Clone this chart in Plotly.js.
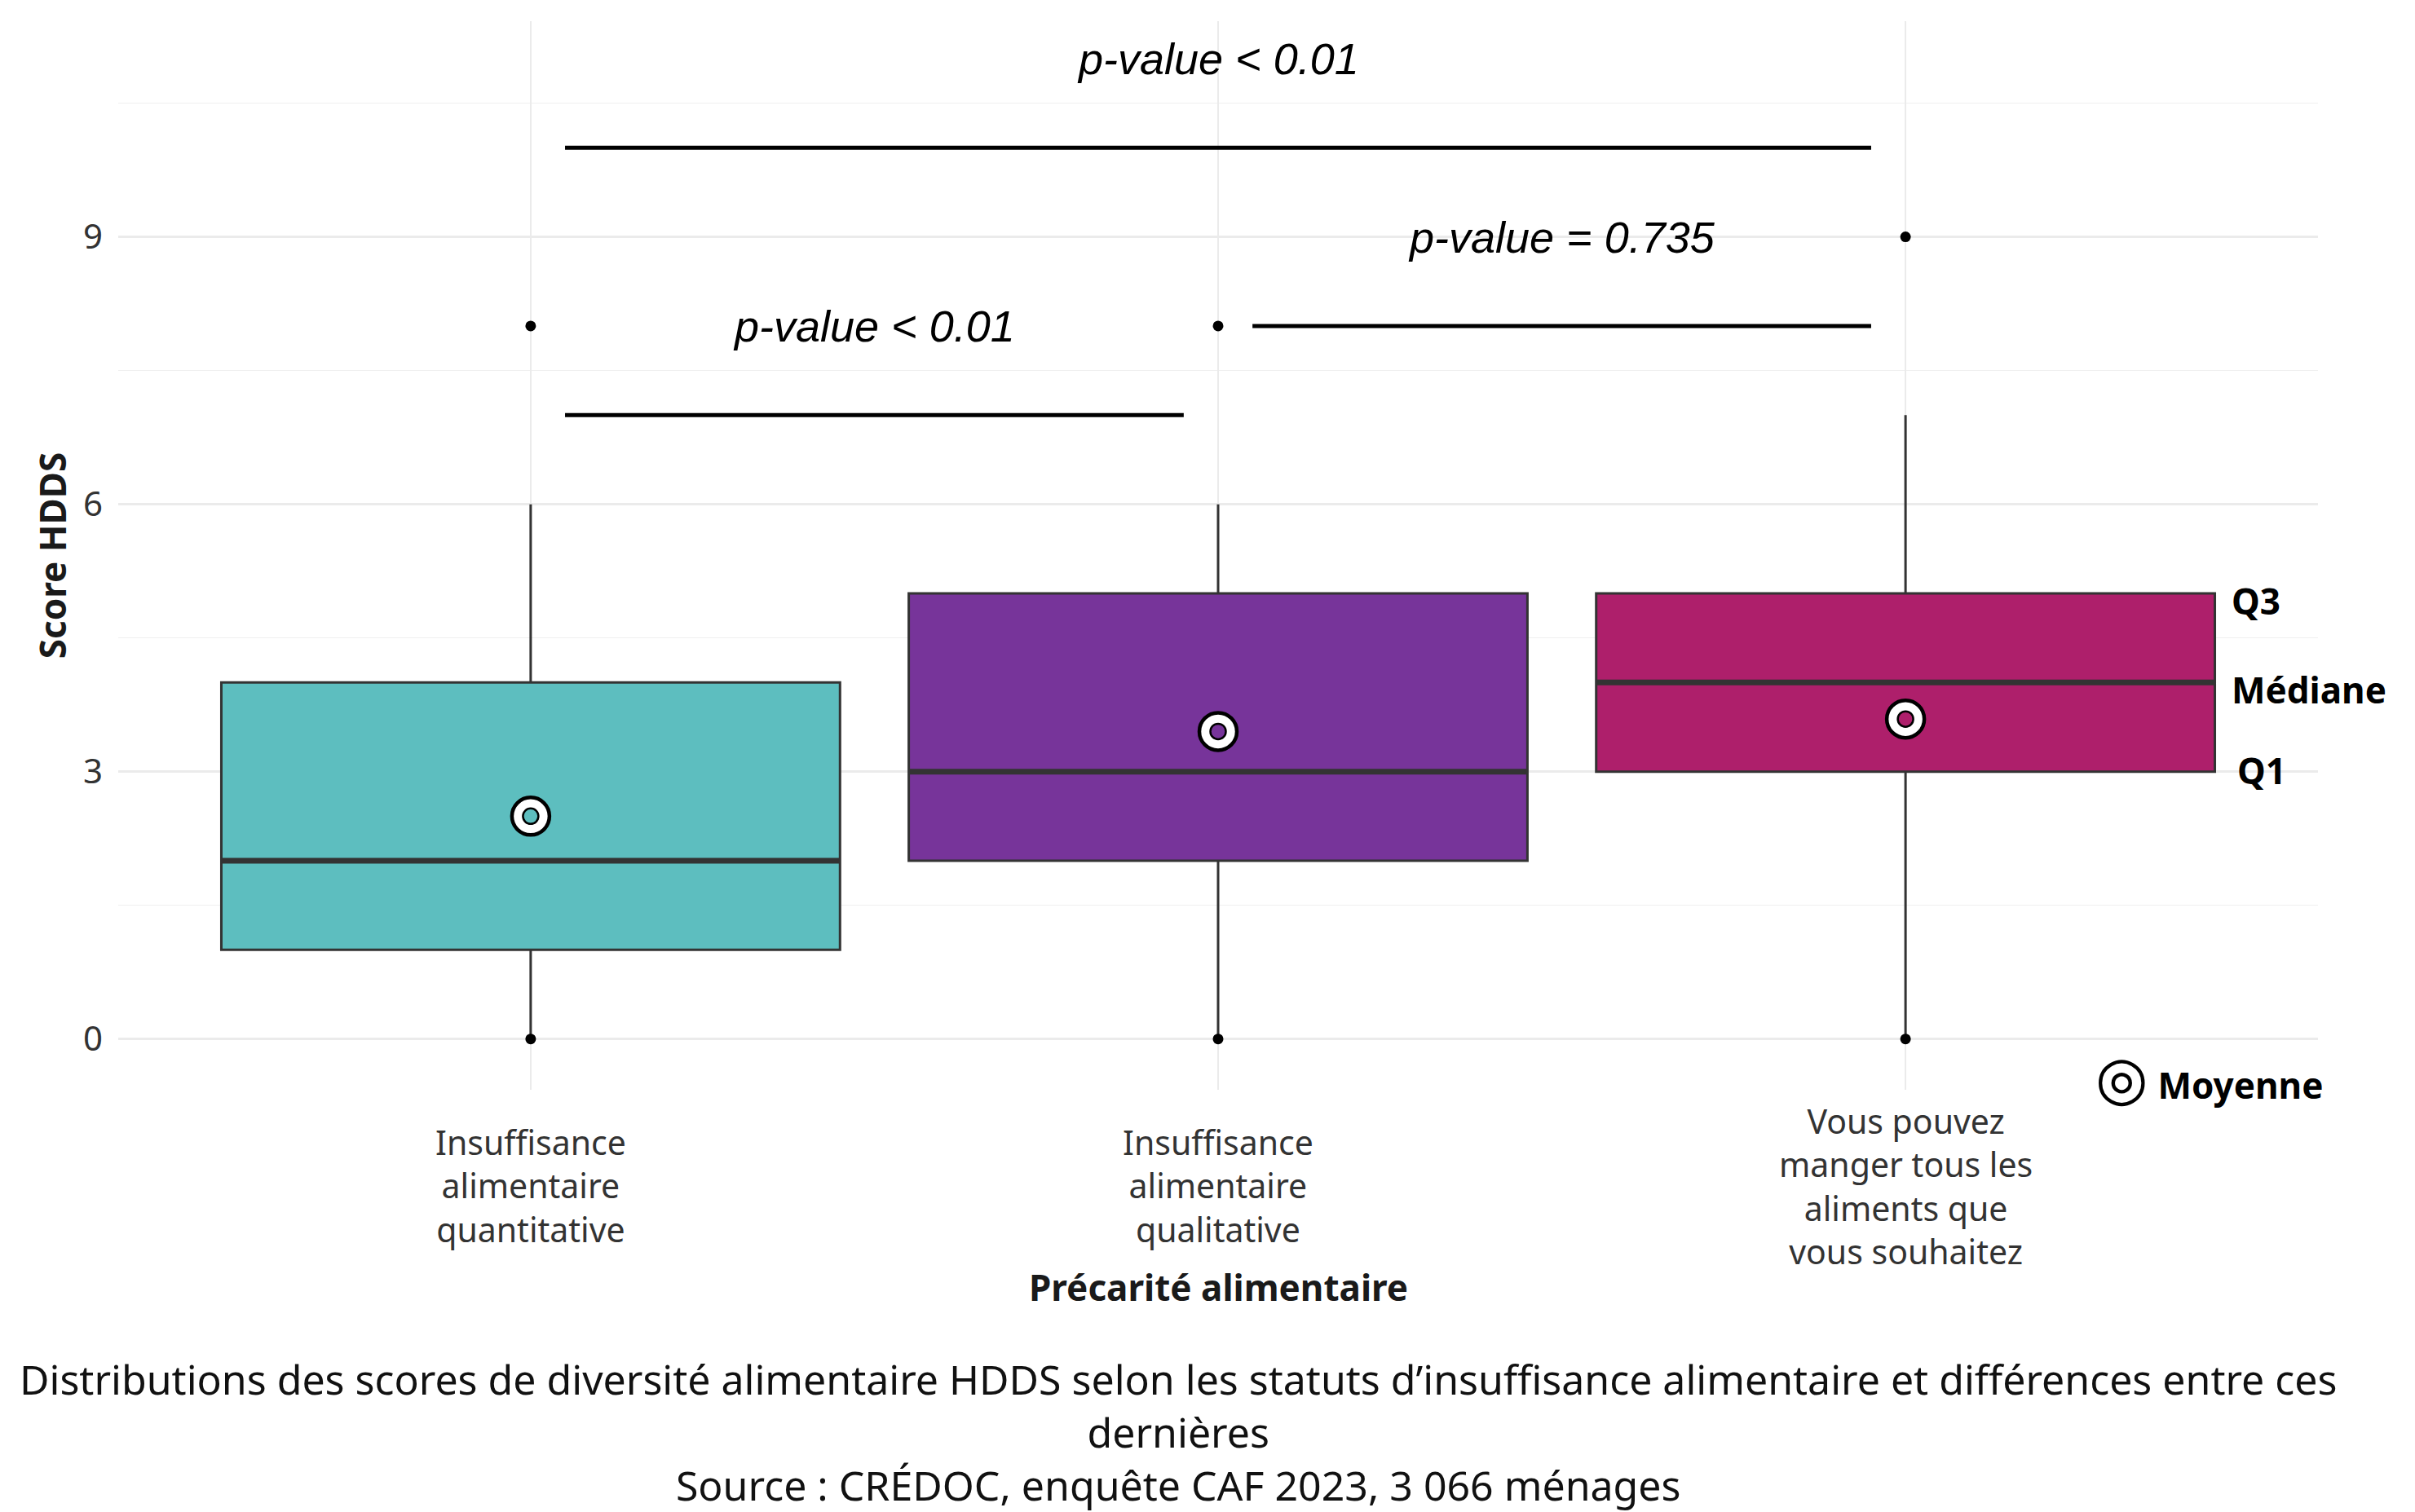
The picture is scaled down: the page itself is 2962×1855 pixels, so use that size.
<!DOCTYPE html>
<html>
<head>
<meta charset="utf-8">
<script src="https://cdn.plot.ly/plotly-3.0.1.min.js"></script>
<style>
  html, body { margin: 0; padding: 0; background: #ffffff; }
  #chart { width: 2962px; height: 1855px; }
</style>
</head>
<body>
<div id="chart"></div>
<script>
// ---- data ----
const categories = [
  "Insuffisance<br>alimentaire<br>quantitative",
  "Insuffisance<br>alimentaire<br>qualitative",
  "Vous pouvez<br>manger tous les<br>aliments que<br>vous souhaitez"
];
const boxColors = ["#5DBEBF", "#77349A", "#AE1F6B"];
const q1Values = [1, 2, 3];
const medianValues = [2, 3, 4];
const q3Values = [4, 5, 5];
const lowerWhisker = [0, 0, 0];
const upperWhisker = [6, 6, 7];
const meanValues = [2.5, 3.45, 3.59];
const minPoints = [0, 0, 0];
const maxPoints = [8, 8, 9];

const bracketFrom = [0, 1, 0];
const bracketTo = [1, 2, 2];
const bracketY = [7, 8, 10];
const pLabels = ["p-value < 0.01", "p-value = 0.735", "p-value < 0.01"];

const yTickVals = [0, 3, 6, 9];
const xTitle = "Précarité alimentaire";
const yTitle = "Score HDDS";
const caption = "Distributions des scores de diversité alimentaire HDDS selon les statuts d’insuffisance alimentaire et différences entre ces<br>dernières<br>Source : CRÉDOC, enquête CAF 2023, 3 066 ménages";

// ---- styling constants ----
const FONT = "Noto Sans";
const BOX_W = 0.9;
const idx = categories.map((_, i) => i);

const traces = [];

// boxes
idx.forEach(i => {
  traces.push({
    type: "box",
    x: [i],
    q1: [q1Values[i]],
    median: [medianValues[i]],
    q3: [q3Values[i]],
    lowerfence: [lowerWhisker[i]],
    upperfence: [upperWhisker[i]],
    width: BOX_W,
    whiskerwidth: 0,
    fillcolor: boxColors[i],
    line: { color: "#333333", width: 3 },
    boxpoints: false,
    hoverinfo: "skip",
    showlegend: false
  });
});

// thick median lines
const medX = [], medY = [];
idx.forEach(i => {
  medX.push(i - BOX_W / 2, i + BOX_W / 2, null);
  medY.push(medianValues[i], medianValues[i], null);
});
traces.push({
  type: "scatter", mode: "lines", x: medX, y: medY,
  line: { color: "#333333", width: 7 }, hoverinfo: "skip", showlegend: false
});

// min / max points
traces.push({
  type: "scatter", mode: "markers",
  x: idx.concat(idx), y: minPoints.concat(maxPoints),
  marker: { color: "#000000", size: 13 }, hoverinfo: "skip", showlegend: false
});

// mean markers (double ring)
traces.push({
  type: "scatter", mode: "markers", x: idx, y: meanValues,
  marker: { color: "#ffffff", size: 46, line: { color: "#000000", width: 4.5 } },
  hoverinfo: "skip", showlegend: false
});
traces.push({
  type: "scatter", mode: "markers", x: idx, y: meanValues,
  marker: { color: boxColors, size: 19, line: { color: "#000000", width: 2.5 } },
  hoverinfo: "skip", showlegend: false
});

// significance brackets
const brX = [], brY = [];
bracketFrom.forEach((f, k) => {
  brX.push(f + 0.05, bracketTo[k] - 0.05, null);
  brY.push(bracketY[k], bracketY[k], null);
});
traces.push({
  type: "scatter", mode: "lines", x: brX, y: brY,
  line: { color: "#000000", width: 5 }, hoverinfo: "skip", showlegend: false
});

// ---- annotations ----
const annotations = [];
bracketFrom.forEach((f, k) => {
  annotations.push({
    x: (f + bracketTo[k]) / 2, y: bracketY[k] + 1, xref: "x", yref: "y",
    text: pLabels[k], showarrow: false, xanchor: "center", yanchor: "middle",
    font: { family: "Liberation Sans, Arial, sans-serif", size: 54, style: "italic", color: "#000000" }
  });
});

// category labels (vertically centred blocks)
idx.forEach(i => {
  annotations.push({
    x: i, y: -0.090, xref: "x", yref: "paper",
    text: categories[i], showarrow: false, xanchor: "center", yanchor: "middle", align: "center",
    font: { family: FONT, size: 41, color: "#333333" }
  });
});

// box key labels, placed next to the last box
const last = categories.length - 1;
annotations.push(
  { x: last + 0.472, y: q3Values[last], xref: "x", yref: "y", yshift: -9, text: "Q3",
    showarrow: false, xanchor: "left", yanchor: "middle",
    font: { family: FONT, size: 44, weight: 700, color: "#000000" } },
  { x: last + 0.472, y: medianValues[last], xref: "x", yref: "y", yshift: -9, text: "Médiane",
    showarrow: false, xanchor: "left", yanchor: "middle",
    font: { family: FONT, size: 44, weight: 700, color: "#000000" } },
  { x: last + 0.48, y: q1Values[last], xref: "x", yref: "y", yshift: 2, text: "Q1",
    showarrow: false, xanchor: "left", yanchor: "middle",
    font: { family: FONT, size: 44, weight: 700, color: "#000000" } },
  { x: 1.003, y: 0.013, xref: "paper", yref: "paper",
    text: '<span style="font-size:74px;font-weight:normal">◎</span> Moyenne',
    showarrow: false, xanchor: "right", yanchor: "middle",
    font: { family: FONT, size: 44, weight: 700, color: "#000000" } }
);

// x title
annotations.push({
  x: 0.5, y: -0.1846, xref: "paper", yref: "paper", text: xTitle,
  showarrow: false, xanchor: "center", yanchor: "middle",
  font: { family: FONT, size: 44, weight: 700, color: "#1a1a1a" }
});

// caption
annotations.push({
  x: 0.4818, y: -0.3204, xref: "paper", yref: "paper", text: caption,
  showarrow: false, xanchor: "center", yanchor: "middle", align: "center",
  font: { family: FONT, size: 50, color: "#111111" }
});

const layout = {
  width: 2962, height: 1855,
  paper_bgcolor: "#ffffff", plot_bgcolor: "#ffffff",
  margin: { l: 145, r: 119, t: 26, b: 518, pad: 0 },
  showlegend: false,
  font: { family: FONT, color: "#333333" },
  boxmode: "overlay",
  xaxis: {
    range: [-0.6, categories.length - 0.4],
    tickvals: idx, showticklabels: false, ticks: "",
    showgrid: true, gridcolor: "#EBEBEB", gridwidth: 2.5,
    zeroline: false, showline: false, fixedrange: true
  },
  yaxis: {
    range: [-0.57, 11.42],
    tickvals: yTickVals, ticks: "", ticklabelstandoff: 18,
    tickfont: { family: FONT, size: 42, color: "#333333" },
    showgrid: true, gridcolor: "#EBEBEB", gridwidth: 2.5,
    minor: { dtick: 1.5, tick0: 0, showgrid: true, gridcolor: "#EFEFEF", gridwidth: 1.5 },
    zeroline: false, showline: false, fixedrange: true,
    title: { text: yTitle, standoff: 6, font: { family: FONT, size: 44, weight: 700, color: "#1a1a1a" } }
  },
  annotations: annotations
};

Plotly.newPlot("chart", traces, layout, { displayModeBar: false, staticPlot: true });
</script>
</body>
</html>
